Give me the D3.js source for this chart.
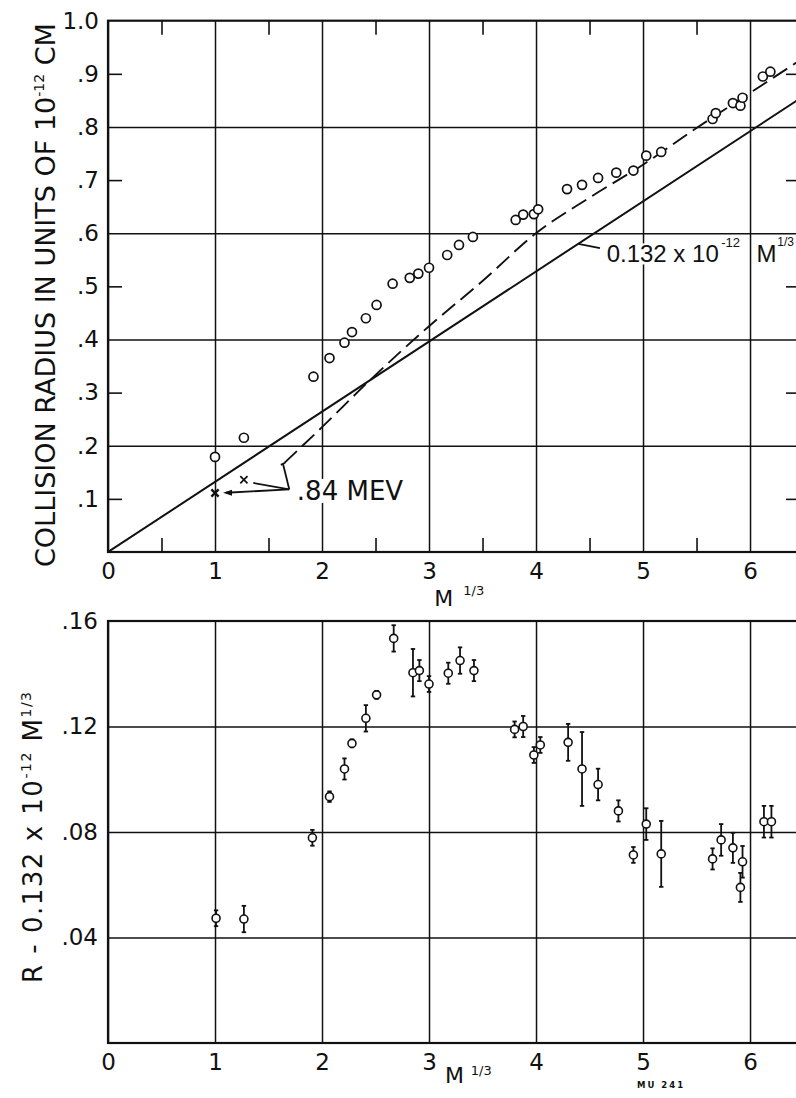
<!DOCTYPE html>
<html><head><meta charset="utf-8">
<script src="https://cdn.jsdelivr.net/npm/d3@7"></script>
<style>
html,body{margin:0;padding:0;background:#fff;}
svg{display:block;}
text{fill:#111;}
</style></head><body>
<svg id="chart" width="796" height="1098" font-family="DejaVu Sans, sans-serif"></svg>
<script>
// ---------- DATA ----------
// Top panel: collision radius R (units of 1e-12 cm) vs M^(1/3)
const topX = [1.00,1.27,1.92,2.07,2.21,2.28,2.41,2.51,2.66,2.82,2.90,3.00,3.17,3.28,3.41,3.81,3.88,3.98,4.02,4.29,4.43,4.58,4.75,4.91,5.03,5.17,5.65,5.68,5.84,5.91,5.93,6.12,6.19];
const topR = [0.179,0.215,0.330,0.365,0.394,0.414,0.440,0.465,0.505,0.516,0.524,0.535,0.559,0.578,0.593,0.625,0.635,0.636,0.645,0.683,0.691,0.704,0.714,0.718,0.746,0.753,0.815,0.826,0.845,0.840,0.855,0.895,0.904];
// 84 MeV points (crosses)
const crossX = [1.00,1.27];
const crossR = [0.111,0.136];
// straight line 0.132e-12 M^(1/3)
const fitX = [0,6.47];
const fitR = [0,0.854];
// dashed curve
const dashX = [1.65,2.0,2.42,3.0,3.5,4.0,4.5,5.0,5.5,6.0,6.47];
const dashR = [0.168,0.235,0.318,0.425,0.510,0.600,0.667,0.729,0.798,0.864,0.926];

// Bottom panel: R - 0.132e-12 M^(1/3)
const botX = [1.01,1.27,1.91,2.07,2.21,2.28,2.41,2.51,2.67,2.85,2.91,3.00,3.18,3.29,3.42,3.80,3.88,3.98,4.04,4.30,4.43,4.58,4.77,4.91,5.03,5.17,5.65,5.73,5.84,5.93,5.91,6.13,6.20];
const botV = [0.0473,0.0470,0.0778,0.0934,0.1039,0.1136,0.1231,0.1320,0.1534,0.1404,0.1412,0.1361,0.1402,0.1450,0.1412,0.1189,0.1200,0.1092,0.1130,0.1140,0.1039,0.0980,0.0880,0.0713,0.0830,0.0717,0.0698,0.0770,0.0740,0.0687,0.0590,0.0839,0.0839];
const botErr = [0.003,0.005,0.003,0.002,0.004,0.0015,0.005,0.0015,0.005,0.009,0.004,0.003,0.004,0.005,0.004,0.003,0.004,0.003,0.003,0.007,0.014,0.006,0.004,0.003,0.006,0.0125,0.004,0.006,0.0057,0.006,0.0055,0.006,0.006];

// ticks
const xTicks = [0,1,2,3,4,5,6];
const xTickLabels = ["0","1","2","3","4","5","6"];
const xMinor = [0.5,1.5,2.5,3.5,4.5,5.5];
const yTopTicks = [0.1,0.2,0.3,0.4,0.5,0.6,0.7,0.8,0.9,1.0];
const yTopLabels = [".1",".2",".3",".4",".5",".6",".7",".8",".9","1.0"];
const yTopGrid = [0.2,0.4,0.6,0.8];
const yTopMinor = [0.1,0.3,0.5,0.7,0.9];
const yBotTicks = [0.04,0.08,0.12,0.16];
const yBotLabels = [".04",".08",".12",".16"];
const yBotGrid = [0.04,0.08,0.12];

// ---------- LAYOUT ----------
const svg = d3.select("#chart");
const L = 108, R = 800;
const x = d3.scaleLinear().domain([0,6.467]).range([L,R]);
const T1 = 20.7, B1 = 552;
const T2 = 621, B2 = 1043;
const yT = d3.scaleLinear().domain([0,1]).range([B1,T1]);
const yB = d3.scaleLinear().domain([0,0.16]).range([B2,T2]);
const ink = "#111";

function styleAxis(g, sw){
  g.attr("font-family","DejaVu Sans").attr("font-size",23);
  g.select(".domain").remove();
  g.selectAll(".tick line").attr("stroke",ink).attr("stroke-width",sw||1.4);
  g.selectAll(".tick text").attr("fill",ink);
}

svg.append("defs").append("clipPath").attr("id","clipTop")
  .append("rect").attr("x",L).attr("y",T1).attr("width",R-L).attr("height",B1-T1);
svg.append("defs").append("clipPath").attr("id","clipBot")
  .append("rect").attr("x",L).attr("y",T2).attr("width",R-L).attr("height",B2-T2);

// ===== TOP PANEL =====
const gt = svg.append("g");
gt.append("g").attr("transform",`translate(0,${B1})`)
  .call(d3.axisBottom(x).tickValues(xTicks).tickSize(-(B1-T1)).tickPadding(10.5)
    .tickFormat((d,i)=>xTickLabels[i]))
  .call(g=>styleAxis(g,1.5));
gt.append("g").attr("transform",`translate(${L},0)`)
  .call(d3.axisLeft(yT).tickValues(yTopGrid).tickSize(-(R-L)).tickFormat(""))
  .call(g=>styleAxis(g,1.5));
gt.append("g").attr("transform",`translate(${L},0)`)
  .call(d3.axisLeft(yT).tickValues(yTopTicks).tickSize(0).tickPadding(9)
    .tickFormat((d,i)=>yTopLabels[i]))
  .call(g=>styleAxis(g,0));
gt.append("g").attr("transform",`translate(${L},0)`)
  .call(d3.axisLeft(yT).tickValues(yTopMinor).tickSize(-14).tickFormat(""))
  .call(g=>styleAxis(g,1.6));
gt.append("g").attr("transform",`translate(${R},0)`)
  .call(d3.axisRight(yT).tickValues(yTopMinor).tickSize(-14).tickFormat(""))
  .call(g=>styleAxis(g,1.6));
gt.append("g").attr("transform",`translate(0,${B1})`)
  .call(d3.axisBottom(x).tickValues(xMinor).tickSize(-14).tickFormat(""))
  .call(g=>styleAxis(g,1.6));
gt.append("g").attr("transform",`translate(0,${T1})`)
  .call(d3.axisTop(x).tickValues(xMinor).tickSize(-14).tickFormat(""))
  .call(g=>styleAxis(g,1.6));
gt.append("rect").attr("x",L).attr("y",T1).attr("width",R-L).attr("height",B1-T1)
  .attr("fill","none").attr("stroke",ink).attr("stroke-width",2.2);

const pt = gt.append("g").attr("clip-path","url(#clipTop)");
pt.append("path").datum(fitX.map((d,i)=>[d,fitR[i]]))
  .attr("d",d3.line().x(d=>x(d[0])).y(d=>yT(d[1])))
  .attr("fill","none").attr("stroke",ink).attr("stroke-width",2);
pt.append("path").datum(dashX.map((d,i)=>[d,dashR[i]]))
  .attr("d",d3.line().curve(d3.curveMonotoneX).x(d=>x(d[0])).y(d=>yT(d[1])))
  .attr("fill","none").attr("stroke",ink).attr("stroke-width",1.9)
  .attr("stroke-dasharray","17,7");

function bgText(g, px, py, str, size, family){
  const t = g.append("text").attr("x",px).attr("y",py).attr("font-size",size).text(str);
  if (family) t.attr("font-family",family);
  const bb = t.node().getBBox();
  g.insert("rect","text").attr("x",bb.x-1).attr("y",bb.y+3).attr("width",bb.width+2).attr("height",bb.height-6).attr("fill","#fff");
  return t;
}
const ann = gt.append("g");
const hub = [1.694,0.118];
const legs = [[1.635,0.166],[1.358,0.130],[1.103,0.1115]];
const mevG = ann.append("g");
bgText(mevG, x(1.765), yT(0.098), ".84 MEV", 26);
legs.forEach(p=>{
  ann.append("line").attr("x1",x(hub[0])).attr("y1",yT(hub[1])).attr("x2",x(p[0])).attr("y2",yT(p[1]))
    .attr("stroke",ink).attr("stroke-width",1.8);
});
ann.append("line").attr("x1",x(1.615)).attr("y1",yT(0.164)).attr("x2",x(1.655)).attr("y2",yT(0.168))
  .attr("stroke",ink).attr("stroke-width",1.8);
{
  const ax = x(legs[2][0]), ay = yT(legs[2][1]);
  ann.append("path").attr("d",`M${ax-3},${ay} L${ax+6},${ay-3} L${ax+6},${ay+3} Z`).attr("fill",ink);
}
const fitG = ann.append("g");
bgText(fitG, x(4.66), yT(0.545), "0.132 x 10", 24, "Liberation Sans");
fitG.append("text").attr("x",x(5.73)).attr("y",yT(0.574)).attr("font-size",13).attr("font-family","Liberation Sans").text("-12");
fitG.append("text").attr("x",x(6.06)).attr("y",yT(0.545)).attr("font-size",24).attr("font-family","Liberation Sans").text("M");
fitG.append("text").attr("x",x(6.255)).attr("y",yT(0.576)).attr("font-size",12).attr("font-family","Liberation Sans").text("1/3");
ann.append("line").attr("x1",x(4.598)).attr("y1",yT(0.572)).attr("x2",x(4.395)).attr("y2",yT(0.58))
  .attr("stroke",ink).attr("stroke-width",1.8);

gt.append("g").selectAll("circle").data(topX).join("circle")
  .attr("cx",d=>x(d)).attr("cy",(d,i)=>yT(topR[i])).attr("r",4.5)
  .attr("fill","#fff").attr("stroke",ink).attr("stroke-width",1.7);
const cg = gt.append("g");
crossX.forEach((cx,i)=>{
  const px = x(cx), py = yT(crossR[i]), s = 3.6, w = i===0?2.4:1.7;
  cg.append("path").attr("d",`M${px-s},${py-s}L${px+s},${py+s}M${px-s},${py+s}L${px+s},${py-s}`)
    .attr("stroke",ink).attr("stroke-width",w);
});

const tt = svg.append("text").attr("transform",`translate(55,567) rotate(-90)`).attr("font-size",27);
tt.append("tspan").text("COLLISION RADIUS IN UNITS OF 10");
tt.append("tspan").attr("dy",-11).attr("font-size",14).text("-12");
tt.append("tspan").attr("dy",11).attr("font-size",27).text(" CM");
svg.append("text").attr("x",x(3.05)).attr("y",606).attr("font-size",22).text("M");
svg.append("text").attr("x",x(3.32)).attr("y",595).attr("font-size",13).text("1/3");

// ===== BOTTOM PANEL =====
const gb = svg.append("g");
gb.append("g").attr("transform",`translate(0,${B2})`)
  .call(d3.axisBottom(x).tickValues(xTicks).tickSize(-(B2-T2)).tickPadding(10.5)
    .tickFormat((d,i)=>xTickLabels[i]))
  .call(g=>styleAxis(g,1.5));
gb.append("g").attr("transform",`translate(${L},0)`)
  .call(d3.axisLeft(yB).tickValues(yBotGrid).tickSize(-(R-L)).tickFormat(""))
  .call(g=>styleAxis(g,1.5));
gb.append("g").attr("transform",`translate(${L},0)`)
  .call(d3.axisLeft(yB).tickValues(yBotTicks).tickSize(0).tickPadding(10)
    .tickFormat((d,i)=>yBotLabels[i]))
  .call(g=>styleAxis(g,0));
gb.append("rect").attr("x",L).attr("y",T2).attr("width",R-L).attr("height",B2-T2)
  .attr("fill","none").attr("stroke",ink).attr("stroke-width",2.2);

const eb = gb.append("g").attr("clip-path","url(#clipBot)");
botX.forEach((bx,i)=>{
  const px = x(bx), y1 = yB(botV[i]+botErr[i]), y2 = yB(botV[i]-botErr[i]);
  eb.append("line").attr("x1",px).attr("x2",px).attr("y1",y1).attr("y2",y2).attr("stroke",ink).attr("stroke-width",1.8);
  eb.append("line").attr("x1",px-2.2).attr("x2",px+2.2).attr("y1",y1).attr("y2",y1).attr("stroke",ink).attr("stroke-width",1.8);
  eb.append("line").attr("x1",px-2.2).attr("x2",px+2.2).attr("y1",y2).attr("y2",y2).attr("stroke",ink).attr("stroke-width",1.8);
});
eb.selectAll("circle").data(botX).join("circle")
  .attr("cx",d=>x(d)).attr("cy",(d,i)=>yB(botV[i])).attr("r",4)
  .attr("fill","#fff").attr("stroke",ink).attr("stroke-width",1.6);

const tb = svg.append("text").attr("transform",`translate(42,983) rotate(-90)`).attr("font-size",26).attr("letter-spacing",1.5);
tb.append("tspan").text("R - 0.132 x 10");
tb.append("tspan").attr("dy",-11).attr("font-size",14).text("-12");
tb.append("tspan").attr("dy",11).attr("font-size",26).text(" M");
tb.append("tspan").attr("dy",-11).attr("font-size",14).text("1/3");
svg.append("text").attr("x",x(3.15)).attr("y",1083).attr("font-size",22).text("M");
svg.append("text").attr("x",x(3.39)).attr("y",1075).attr("font-size",13).text("1/3");
svg.append("text").attr("x",637).attr("y",1088).attr("font-size",8.5).attr("font-weight","bold").attr("letter-spacing",2).text("MU 241");
</script>
</body></html>
